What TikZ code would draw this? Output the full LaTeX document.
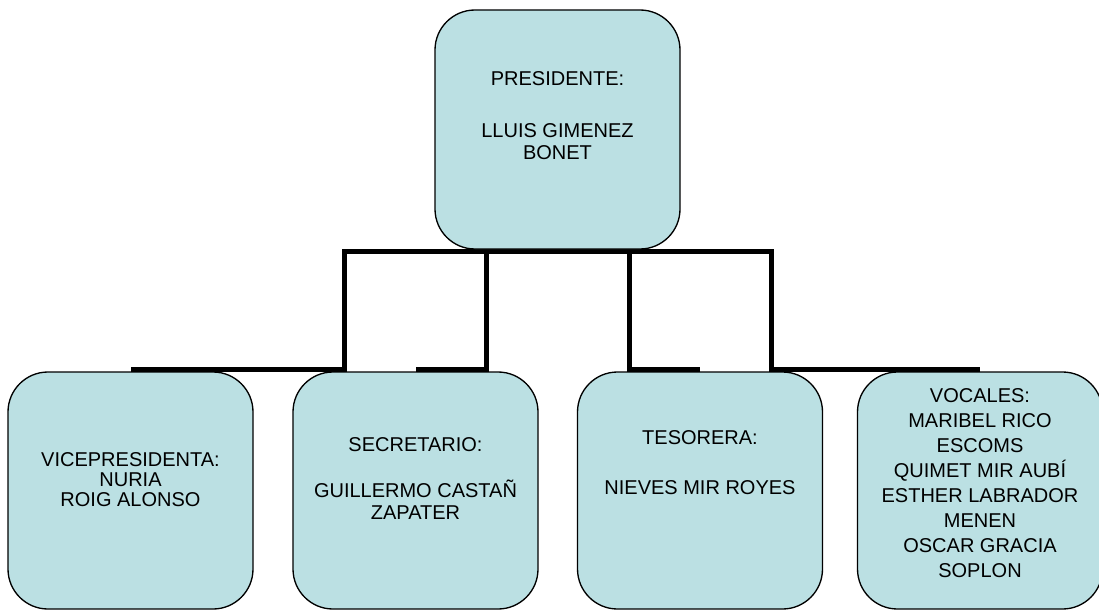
\documentclass[tikz,border=0pt]{standalone}
\usepackage{fontspec}
\setmainfont{Liberation Sans}
\usetikzlibrary{backgrounds}
\definecolor{boxblue}{RGB}{187,224,227}

\begin{document}
\begin{tikzpicture}[x=0.75pt,y=-0.75pt,
  main node/.style={fill=boxblue,rectangle,rounded corners=30pt,draw,line width=1pt,
    minimum width=183.75pt,minimum height=177.75pt,outer sep=1.8pt,align=center,
    font=\fontsize{15}{16.9}\selectfont},
  bus/.style={line width=3.75pt,to path={-| (#1) |- (\tikztotarget)}}]

  \useasboundingbox (0,0) rectangle (1099,610);

  \node[main node,minimum height=179.25pt,text depth=21pt] (pres) at (557.5,129.5)
    {PRESIDENTE:\\[22pt]LLUIS GIMENEZ\\BONET};

  \node[main node,text depth=16.5pt,font=\fontsize{15}{15}\selectfont] (vp) at (130.5,490.5)
    {VICEPRESIDENTA:\\NURIA\\ROIG ALONSO};
  \node[main node,text depth=18pt,font=\fontsize{15}{16.5}\selectfont] (sec) at (415.5,490.5)
    {SECRETARIO:\\[18pt]GUILLERMO CASTAÑ\\ZAPATER};
  \node[main node,text depth=42pt,font=\fontsize{15}{18.75}\selectfont] (tes) at (700,490.5)
    {TESORERA:\\[18.75pt]NIEVES MIR ROYES};
  \node[main node,text depth=11pt,font=\fontsize{15}{18.75}\selectfont] (voc) at (980,490.5)
    {VOCALES:\\MARIBEL RICO\\ESCOMS\\QUIMET MIR AUBÍ\\ESTHER LABRADOR\\MENEN\\OSCAR GRACIA\\SOPLON};

  \coordinate (k1) at (344,310);
  \coordinate (k2) at (486,310);
  \coordinate (k3) at (629,310);
  \coordinate (k4) at (771,310);

  \begin{scope}[on background layer]
  \path
    (pres.south) edge [bus=k1] (vp.north)
    (pres.south) edge [bus=k2] (sec.north)
    (pres.south) edge [bus=k3] (tes.north)
    (pres.south) edge [bus=k4] (voc.north)
;
  \end{scope}
\end{tikzpicture}
\end{document}
